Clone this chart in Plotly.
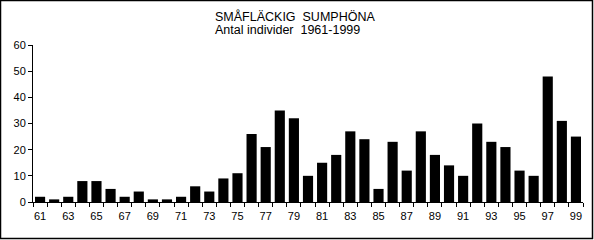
import plotly.graph_objects as go

years = list(range(61, 100))
counts = [2, 1, 2, 8, 8, 5, 2, 4, 1, 1,
          2, 6, 4, 9, 11, 26, 21, 35, 32, 10,
          15, 18, 27, 24, 5, 23, 12, 27, 18, 14,
          10, 30, 23, 21, 12, 10, 48, 31, 25]
label_years = [y for y in years if y % 2 == 1]
boundaries = [y - 0.5 for y in years] + [years[-1] + 0.5]
title_lines = ["SMÅFLÄCKIG\u00a0\u00a0SUMPHÖNA", "Antal individer\u00a0\u00a01961-1999"]

W, H = 594, 240
L, R, T, B = 33, 11, 45, 38
pw, ph = W - L - R, H - T - B

fig = go.Figure(go.Bar(x=years, y=counts, marker=dict(color="black", line=dict(width=0)),
                       width=0.72))

fig.update_layout(
    width=W, height=H,
    margin=dict(l=L, r=R, t=T, b=B),
    paper_bgcolor="white", plot_bgcolor="white",
    font=dict(family="Liberation Sans, Arial", size=11, color="black"),
    showlegend=False,
    xaxis=dict(range=[boundaries[0], boundaries[-1]], tickvals=label_years,
               ticktext=[str(y) for y in label_years], ticks="", showgrid=False,
               showline=True, linecolor="black", linewidth=1, zeroline=False,
               tickfont=dict(size=11), ticklabelstandoff=4,
               minor=dict(tickvals=boundaries, ticks="outside", ticklen=4,
                          tickcolor="black", tickwidth=1, showgrid=False)),
    yaxis=dict(range=[0, 60], dtick=10, ticks="outside", ticklen=4, tickcolor="black",
               showgrid=False, showline=True, linecolor="black", linewidth=1,
               zeroline=False, tickfont=dict(size=11)),
)

for i, line in enumerate(title_lines):
    fig.add_annotation(text=line, xref="paper", yref="paper",
                       x=(214 - L) / pw, y=1 + (T - (16 + 14 * i)) / ph,
                       xanchor="left", yanchor="middle", showarrow=False,
                       borderpad=0,
                       font=dict(size=12.5, color="black"))

fig.add_shape(type="rect", xref="paper", yref="paper",
              x0=-(L - 0.5) / pw, x1=1 + (R - 1.5) / pw,
              y0=-(B - 1.5) / ph, y1=1 + (T - 0.5) / ph,
              line=dict(color="black", width=1.5), layer="above")

fig.write_html("out.html")
